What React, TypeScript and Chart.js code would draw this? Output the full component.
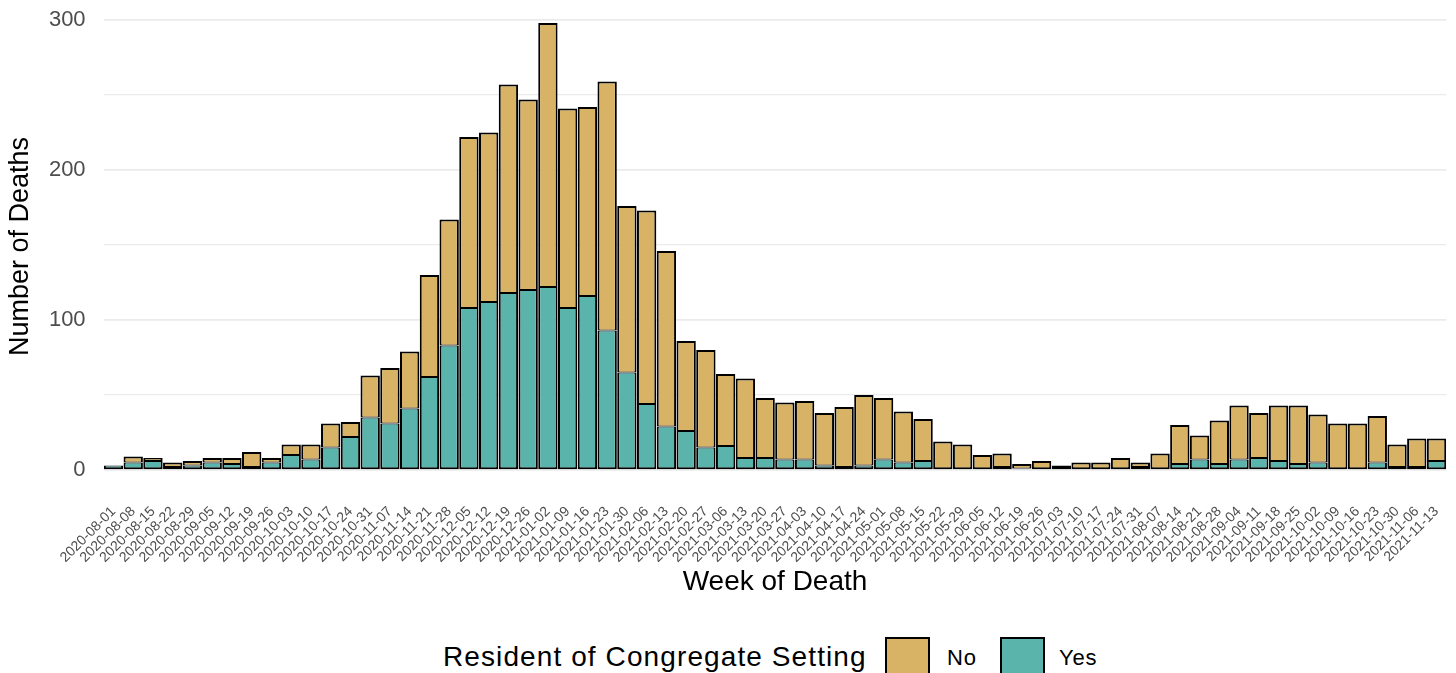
import React, { useEffect, useRef } from "react";
import { Chart, registerables } from "chart.js";

Chart.register(...registerables);

const weeks: string[] = [
  "2020-08-01", "2020-08-08", "2020-08-15", "2020-08-22", "2020-08-29",
  "2020-09-05", "2020-09-12", "2020-09-19", "2020-09-26",
  "2020-10-03", "2020-10-10", "2020-10-17", "2020-10-24", "2020-10-31",
  "2020-11-07", "2020-11-14", "2020-11-21", "2020-11-28",
  "2020-12-05", "2020-12-12", "2020-12-19", "2020-12-26",
  "2021-01-02", "2021-01-09", "2021-01-16", "2021-01-23", "2021-01-30",
  "2021-02-06", "2021-02-13", "2021-02-20", "2021-02-27",
  "2021-03-06", "2021-03-13", "2021-03-20", "2021-03-27",
  "2021-04-03", "2021-04-10", "2021-04-17", "2021-04-24",
  "2021-05-01", "2021-05-08", "2021-05-15", "2021-05-22", "2021-05-29",
  "2021-06-05", "2021-06-12", "2021-06-19", "2021-06-26",
  "2021-07-03", "2021-07-10", "2021-07-17", "2021-07-24", "2021-07-31",
  "2021-08-07", "2021-08-14", "2021-08-21", "2021-08-28",
  "2021-09-04", "2021-09-11", "2021-09-18", "2021-09-25",
  "2021-10-02", "2021-10-09", "2021-10-16", "2021-10-23", "2021-10-30",
  "2021-11-06", "2021-11-13",
];

// Residents of congregate settings (bottom segment)
const yesDeaths: number[] = [
  3, 5, 6, 2, 3, 5, 4, 2, 5, 10, 7, 15, 22, 35, 31, 41, 62, 83, 108, 112,
  118, 120, 122, 108, 116, 93, 65, 44, 29, 26, 15, 16, 8, 8, 7, 7, 3, 2, 3, 7,
  5, 6, 0, 0, 0, 2, 1, 0, 0, 0, 0, 0, 2, 0, 4, 7, 4, 7, 8, 6,
  4, 5, 0, 0, 5, 2, 2, 6,
];

// Non-residents (top segment)
const noDeaths: number[] = [
  0, 4, 2, 3, 3, 3, 4, 10, 3, 7, 10, 16, 10, 28, 37, 38, 68, 84, 114, 113,
  139, 127, 176, 133, 126, 166, 111, 129, 117, 60, 65, 48, 53, 40, 38, 39, 35, 40, 47, 41,
  34, 28, 19, 17, 10, 9, 3, 6, 3, 5, 5, 8, 3, 11, 26, 16, 29, 36, 30, 37,
  39, 32, 31, 31, 31, 15, 19, 15,
];

const yTickValues: number[] = [0, 50, 100, 150, 200, 250, 300];

const NO_COLOR = "#D8B365";
const YES_COLOR = "#5AB4AC";
const FONT = "'Liberation Sans', Arial, Helvetica, sans-serif";

export default function App() {
  const canvasRef = useRef<HTMLCanvasElement | null>(null);

  useEffect(() => {
    if (!canvasRef.current) return;
    Chart.defaults.font.family = FONT;
    const chart = new Chart(canvasRef.current, {
      type: "bar",
      data: {
        labels: weeks,
        datasets: [
          {
            label: "Yes",
            data: yesDeaths,
            backgroundColor: YES_COLOR,
            borderColor: "#000",
            borderWidth: { top: 1, left: 2, right: 2, bottom: 2 } as any,
            borderSkipped: false,
            barPercentage: 0.98,
            categoryPercentage: 1,
          },
          {
            label: "No",
            data: noDeaths,
            backgroundColor: NO_COLOR,
            borderColor: "#000",
            borderWidth: ((ctx: any) => ({
              top: 2,
              left: 2,
              right: 2,
              bottom: yesDeaths[ctx.dataIndex] > 0 ? 1 : 2,
            })) as any,
            borderSkipped: false,
            barPercentage: 0.98,
            categoryPercentage: 1,
          },
        ],
      },
      options: {
        responsive: false,
        animation: false,
        events: [],
        layout: {
          autoPadding: false,
          padding: { top: 0.65, right: 9.6, bottom: 0, left: 0 },
        } as any,
        plugins: {
          legend: { display: false },
          tooltip: { enabled: false },
        },
        scales: {
          x: {
            stacked: true,
            offset: true,
            grid: { display: false, drawTicks: false },
            border: { display: false },
            ticks: {
              autoSkip: false,
              maxRotation: 45,
              minRotation: 45,
              color: "#4d4d4d",
              font: { size: 14 },
              padding: 11,
            },
            title: {
              display: true,
              text: "Week of Death",
              color: "#000",
              font: { size: 28 },
              padding: { top: 0, bottom: 1 },
            },
            afterFit: (scale: any) => {
              scale.height = 107.6;
              scale.paddingLeft = 0;
              scale.paddingRight = 0;
            },
          },
          y: {
            stacked: true,
            min: -14.9,
            max: 312.9,
            afterBuildTicks: (scale: any) => {
              scale.ticks = yTickValues.map((v) => ({ value: v }));
            },
            grid: {
              color: "#ebebeb",
              lineWidth: (ctx: any) =>
                ctx.tick && ctx.tick.value % 100 === 0 ? 1.8 : 1.2,
              drawTicks: false,
            },
            border: { display: false },
            ticks: {
              color: "#4d4d4d",
              font: { size: 22 },
              padding: 18,
              callback: (v: any) => (Number(v) % 100 === 0 ? String(v) : ""),
            },
            title: {
              display: true,
              text: "Number of Deaths",
              color: "#000",
              font: { size: 27 },
              padding: { top: 4, bottom: 0 },
            },
            afterFit: (scale: any) => {
              scale.width = 103.6;
              scale.paddingTop = 0;
              scale.paddingBottom = 0;
            },
          },
        },
      },
    });
    return () => chart.destroy();
  }, []);

  const textBase: React.CSSProperties = {
    position: "absolute",
    fontFamily: FONT,
    color: "#000",
    whiteSpace: "nowrap",
  };

  return (
    <div
      style={{
        position: "absolute",
        left: 0,
        top: 0,
        width: 1456,
        height: 673,
        background: "#fff",
        overflow: "hidden",
      }}
    >
      <canvas
        ref={canvasRef}
        width={1456}
        height={600}
        style={{ display: "block", width: 1456, height: 600 }}
      />
      <span
        style={{
          ...textBase,
          left: 443,
          top: 643,
          fontSize: 28,
          lineHeight: "28px",
          letterSpacing: "1.1px",
        }}
      >
        Resident of Congregate Setting
      </span>
      <div
        style={{
          position: "absolute",
          left: 885,
          top: 637,
          width: 45,
          height: 44,
          boxSizing: "border-box",
          border: "2px solid #000",
          background: NO_COLOR,
        }}
      />
      <span style={{ ...textBase, left: 947, top: 647, fontSize: 22, lineHeight: "22px", letterSpacing: "0.8px" }}>
        No
      </span>
      <div
        style={{
          position: "absolute",
          left: 1000,
          top: 637,
          width: 45,
          height: 44,
          boxSizing: "border-box",
          border: "2px solid #000",
          background: YES_COLOR,
        }}
      />
      <span style={{ ...textBase, left: 1059, top: 647, fontSize: 22, lineHeight: "22px", letterSpacing: "0.8px" }}>
        Yes
      </span>
    </div>
  );
}
